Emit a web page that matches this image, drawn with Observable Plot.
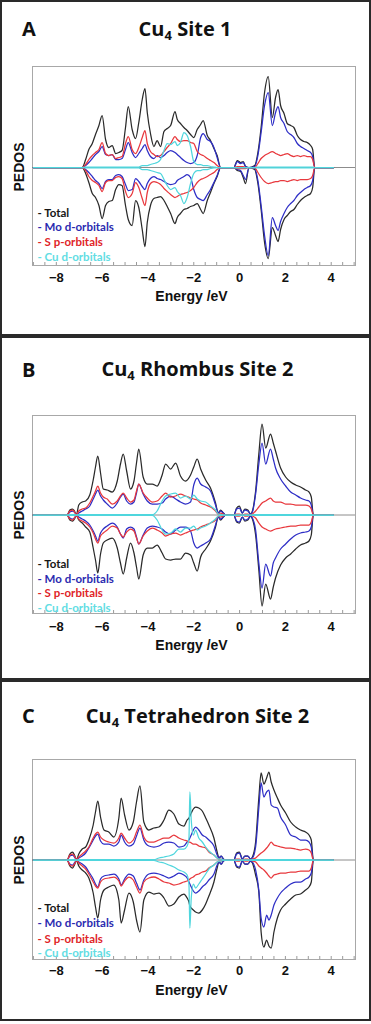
<!DOCTYPE html>
<html><head><meta charset="utf-8">
<script src="https://cdn.jsdelivr.net/npm/d3@7"></script>
<script src="https://cdn.jsdelivr.net/npm/@observablehq/plot@0.6"></script>
<style>
html,body{margin:0;padding:0;background:#fff;}
#root{position:relative;width:371px;height:1024px;overflow:hidden;}
.box{position:absolute;left:0;width:371px;box-sizing:border-box;border:2px solid #2a2a2a;}
.letter{position:absolute;font:bold 20px "Open Sans",Lato,sans-serif;line-height:20px;color:#111;}
.title{position:absolute;font:bold 20px "Open Sans",Lato,sans-serif;line-height:20px;white-space:nowrap;color:#111;transform:translateX(-50%);}
.title sub{font-size:13px;vertical-align:-4px;line-height:0;}
.ylab{position:absolute;font:bold 14px "Liberation Sans",Arial,sans-serif;line-height:14px;white-space:nowrap;color:#111;transform:translate(-50%,-50%) rotate(-90deg);}
.xlab{position:absolute;font:bold 14px "Liberation Sans",Arial,sans-serif;line-height:14px;white-space:nowrap;color:#111;transform:translate(-50%,-50%);}
.chart{position:absolute;left:0;}
</style></head>
<body><div id="root"></div>
<script>
// ---------- data ----------
const xTicks = [-8, -6, -4, -2, 0, 2, 4];
const legendLabels = ["- Total", "- Mo d-orbitals", "- S p-orbitals", "- Cu d-orbitals"];
const titleRests = [" Site 1", " Rhombus Site 2", " Tetrahedron Site 2"];
const panelLetters = ["A", "B", "C"];

// Panel A
const energyA = [-9.0,-6.87,-6.72,-6.58,-6.43,-6.29,-6.14,-6.00,-5.85,-5.71,-5.56,-5.41,-5.27,-5.13,-4.98,-4.86,-4.69,-4.54,-4.40,-4.25,-4.13,-4.03,-3.89,-3.74,-3.60,-3.45,-3.30,-3.16,-3.01,-2.82,-2.72,-2.58,-2.43,-2.29,-2.14,-2.00,-1.85,-1.70,-1.59,-1.41,-1.27,-1.12,-0.98,-0.83,-0.25,-0.10,0.04,0.16,0.26,0.41,0.66,0.80,0.94,1.09,1.25,1.43,1.57,1.68,1.79,1.94,2.08,2.23,2.37,2.52,2.66,2.81,2.95,3.10,3.19,3.28,4.10];
const totalUpA = [0,0,8,18,24,33,42,52,28,20,22,14,15,17,40,61,38,29,45,68,79,55,34,21,27,21,36,39,42,56,48,44,40,37,33,30,38,43,47,32,27,19,12,0,0,7,5,6,1,0,2,15,40,75,91,50,70,78,62,54,44,42,40,32,28,26,25,22,18,0,0];
const totalDnA = [0,0,-6,-15,-26,-30,-38,-51,-38,-34,-33,-22,-17,-18,-38,-52,-58,-33,-40,-62,-79,-55,-38,-31,-30,-29,-33,-39,-46,-56,-50,-46,-42,-41,-39,-38,-36,-42,-46,-33,-25,-16,-9,0,0,-3,-4,-10,-16,0,-2,-16,-42,-75,-91,-60,-68,-74,-62,-52,-48,-44,-42,-37,-33,-30,-28,-26,-20,0,0];
const moUpA = [0,0,2,5,9,13,16,21,13,12,13,8,8,9,18,25,15,10,14,19,23,17,11,9,12,10,12,15,17,15,13,10,7,5,4,5,12,30,34,28,26,20,10,0,0,6,4,5,1,0,1,12,35,62,75,42,55,61,50,44,36,33,30,24,21,19,17,15,11,0,0];
const moDnA = [0,0,-2,-5,-9,-13,-16,-21,-14,-12,-12,-8,-7,-9,-17,-23,-22,-11,-14,-19,-22,-16,-11,-9,-11,-12,-14,-16,-17,-16,-13,-11,-9,-7,-10,-22,-30,-32,-33,-27,-22,-15,-8,0,0,-2,-3,-8,-12,0,-1,-13,-38,-68,-88,-50,-58,-63,-54,-46,-40,-36,-33,-28,-25,-22,-20,-18,-13,0,0];
const sUpA = [0,0,3,8,12,15,18,25,14,12,13,9,10,11,24,31,18,14,20,30,37,24,16,13,11,12,16,20,24,31,28,26,27,27,25,24,16,13,12,9,7,5,2,0,0,1,1,1,0,0,0,4,9,12,14,16,14,13,12,13,14,12,11,12,11,12,11,11,8,0,0];
const sDnA = [0,0,-3,-9,-13,-15,-18,-24,-15,-13,-13,-10,-9,-11,-24,-30,-26,-15,-20,-31,-38,-25,-16,-14,-15,-17,-21,-24,-27,-30,-29,-27,-26,-25,-23,-20,-15,-12,-11,-9,-7,-5,-2,0,0,-1,-1,-1,-1,0,0,-5,-10,-14,-16,-15,-14,-14,-13,-13,-14,-13,-12,-13,-12,-12,-12,-11,-8,0,0];
const cuUpA = [0,0,.3,.3,.3,.3,.3,.3,.3,.3,.3,.3,.3,.3,.3,.3,.3,.3,.3,2,2,2,3,4,5,8,17,24,23,26,22,25,35,32,21,6,3,3,2,2,1,.5,0,0,0,0,0,0,0,0,0,.3,.3,.3,.3,.3,.3,.3,.3,.3,.3,.3,.3,.3,.3,.3,.3,.3,.3,0,0];
const cuDnA = [0,0,-.3,-.3,-.3,-.3,-.3,-.3,-.3,-.3,-.3,-.3,-.3,-.3,-.3,-.3,-.3,-.3,-.3,-2,-2,-2,-3,-4,-5,-6,-12,-18,-22,-20,-24,-28,-36,-30,-16,-6,-3,-3,-2,-2,-1,-.5,0,0,0,0,0,0,0,0,0,-.3,-.3,-.3,-.3,-.3,-.3,-.3,-.3,-.3,-.3,-.3,-.3,-.3,-.3,-.3,-.3,-.3,-.3,0,0];

// Panel B
const energyB = [-9.0,-7.53,-7.41,-7.29,-7.21,-7.12,-7.02,-6.87,-6.72,-6.54,-6.39,-6.29,-6.19,-6.07,-5.95,-5.78,-5.56,-5.34,-5.20,-5.08,-4.93,-4.76,-4.61,-4.50,-4.40,-4.21,-4.03,-3.81,-3.60,-3.38,-3.23,-3.01,-2.79,-2.58,-2.36,-2.14,-2.00,-1.85,-1.70,-1.48,-1.27,-1.05,-0.93,-0.83,-0.71,-0.61,-0.25,-0.13,-0.01,0.12,0.23,0.36,0.48,0.56,0.70,0.84,0.98,1.14,1.35,1.47,1.57,1.79,2.01,2.23,2.45,2.66,2.88,3.03,3.13,3.22,4.10];
const totalUpB = [0,0,5,6,4,0.5,10,13,14,20,35,48,59,42,26,25,23,34,51,61,44,26,34,52,66,38,31,31,29,40,51,46,52,39,34,40,48,56,46,35,27,12,2,5,2,0,0,7,9,2,6,5,1,4,24,61,91,67,81,72,64,47,38,33,30,28,25,23,18,0,0];
const totalDnB = [0,0,-5,-6,-4,-0.5,-5,-8,-12,-17,-33,-45,-58,-39,-28,-25,-23,-33,-48,-59,-43,-28,-38,-52,-64,-40,-33,-33,-30,-38,-44,-45,-44,-44,-38,-40,-48,-56,-42,-34,-26,-12,-2,-5,-2,0,0,-7,-8,-2,-6,-5,-1,-4,-20,-55,-91,-69,-84,-72,-63,-50,-43,-39,-34,-30,-28,-26,-20,0,0];
const moUpB = [0,0,3,4,3,0.5,2,4,6,9,16,21,25,19,15,11,7,12,18,21,14,11,13,22,31,21,14,11,11,12,16,19,16,13,11,13,30,37,31,28,24,10,2,4,2,0,0,6,7,2,5,4,1,3,21,51,72,51,66,56,47,36,29,23,20,17,15,14,10,0,0];
const moDnB = [0,0,-3,-4,-3,-0.5,-2,-4,-6,-10,-16,-21,-26,-18,-14,-11,-8,-12,-19,-23,-14,-12,-14,-22,-29,-20,-13,-11,-12,-14,-17,-19,-15,-12,-12,-16,-28,-33,-31,-28,-24,-10,-2,-4,-2,0,0,-6,-7,-2,-5,-4,-1,-3,-15,-48,-73,-49,-61,-48,-43,-34,-29,-24,-20,-18,-17,-16,-12,0,0];
const sUpB = [0,0,4,5,3,0.5,4,6,7,12,19,24,29,22,18,16,11,14,19,22,17,13,15,24,31,22,17,13,14,19,22,18,19,21,19,17,16,15,12,10,8,4,1,2,1,0,0,1,1,0,1,1,0,1,4,8,12,14,17,14,13,13,11,11,10,10,10,9,6,0,0];
const sDnB = [0,0,-4,-5,-3,-0.5,-4,-6,-8,-12,-18,-24,-28,-21,-18,-15,-11,-13,-19,-22,-17,-14,-16,-23,-29,-21,-16,-13,-15,-18,-21,-19,-18,-20,-18,-16,-15,-14,-12,-10,-8,-5,-1,-2,-1,0,0,-1,-1,0,-1,-1,0,-1,-3,-8,-12,-14,-16,-15,-14,-13,-12,-11,-11,-10,-10,-10,-7,0,0];
const cuUpB = [0,0,.3,.3,.3,0,.3,.3,.3,.3,.3,.3,.3,.3,.3,.3,.3,.3,.3,.3,.3,.3,.3,.3,.3,.3,.3,.3,4,14,19,21,22,17,19,16,20,16,14,13,9,5,1,.5,0,0,0,0,0,0,0,0,0,0,.3,.3,.3,.3,.3,.3,.3,.3,.3,.3,.3,.3,.3,.3,.3,0,0];
const cuDnB = [0,0,-.3,-.3,-.3,0,-.3,-.3,-.3,-.3,-.3,-.3,-.3,-.3,-.3,-.3,-.3,-.3,-.3,-.3,-.3,-.3,-.3,-.3,-.3,-.3,-.3,-.3,-5,-15,-19,-18,-14,-17,-13,-13,-11,-15,-13,-11,-8,-4,-1,-.5,0,0,0,0,0,0,0,0,0,0,-.3,-.3,-.3,-.3,-.3,-.3,-.3,-.3,-.3,-.3,-.3,-.3,-.3,-.3,-.3,0,0];

// Panel C
const energyC = [-9.0,-7.53,-7.41,-7.29,-7.21,-7.12,-7.02,-6.87,-6.72,-6.58,-6.39,-6.29,-6.19,-6.07,-5.92,-5.71,-5.49,-5.27,-5.17,-5.02,-4.83,-4.64,-4.50,-4.35,-4.18,-3.96,-3.74,-3.52,-3.30,-3.09,-2.87,-2.65,-2.43,-2.29,-2.21,-2.17,-2.11,-2.02,-1.92,-1.78,-1.63,-1.48,-1.34,-1.12,-0.98,-0.90,-0.80,-0.71,-0.61,-0.25,-0.13,-0.01,0.12,0.23,0.36,0.48,0.56,0.70,0.84,0.94,1.06,1.18,1.28,1.38,1.50,1.65,1.79,2.01,2.23,2.45,2.66,2.88,3.03,3.13,3.22,4.10];
const totalUpC = [0,0,6,8,5,0.5,6,11,13,20,35,48,59,43,30,28,23,42,62,45,30,38,58,74,38,30,32,33,40,50,46,36,34,40,42,44,47,51,53,52,49,42,35,22,8,2,4,1,0,0,7,8,1,4,4,1,3,18,62,87,76,82,88,78,70,62,55,47,38,33,30,28,25,20,0,0];
const totalDnC = [0,0,-6,-8,-5,-0.5,-6,-10,-13,-18,-33,-47,-58,-40,-30,-27,-25,-40,-63,-50,-33,-42,-60,-72,-40,-32,-34,-33,-38,-46,-44,-37,-34,-38,-42,-46,-48,-50,-52,-53,-50,-44,-36,-22,-8,-2,-4,-1,0,0,-7,-8,-1,-4,-4,-1,-3,-15,-32,-72,-87,-80,-86,-88,-72,-58,-50,-44,-39,-35,-34,-30,-27,-22,0,0];
const moUpC = [0,0,4,5,3,0.5,2,4,7,12,20,24,26,19,16,16,14,18,25,18,14,16,24,32,20,14,13,14,17,18,17,13,14,18,20,22,25,30,33,30,25,23,20,14,5,2,4,1,0,0,6,7,1,4,4,1,2,13,52,77,63,68,70,55,53,52,43,35,25,23,20,20,18,13,0,0];
const moDnC = [0,0,-4,-5,-3,-0.5,-2,-4,-7,-12,-19,-24,-27,-19,-16,-15,-14,-19,-25,-19,-14,-16,-23,-30,-20,-14,-13,-14,-16,-18,-16,-13,-15,-18,-22,-24,-27,-31,-33,-31,-27,-24,-20,-14,-5,-2,-4,-1,0,0,-6,-7,-1,-4,-4,-1,-2,-10,-30,-58,-67,-55,-60,-55,-45,-38,-33,-28,-24,-22,-22,-19,-17,-13,0,0];
const sUpC = [0,0,5,6,4,0.5,3,6,9,13,22,26,28,23,20,18,17,22,27,22,17,20,28,35,23,18,18,20,22,22,25,22,20,19,18,18,17,16,16,14,13,12,8,5,2,1,1,0,0,0,1,1,0,1,1,0,1,2,5,7,9,12,15,18,15,14,13,12,12,11,10,11,10,7,0,0];
const sDnC = [0,0,-5,-6,-4,-0.5,-3,-6,-9,-14,-22,-26,-28,-22,-19,-18,-17,-21,-26,-21,-17,-20,-27,-33,-22,-18,-17,-19,-22,-23,-25,-24,-22,-21,-20,-19,-18,-17,-15,-14,-12,-11,-8,-5,-2,-1,-1,0,0,0,-1,-1,0,-1,-1,0,-1,-2,-6,-8,-10,-13,-16,-18,-15,-14,-13,-13,-12,-12,-11,-11,-11,-8,0,0];
const cuUpC = [0,0,.3,.3,.3,0,.3,.3,.3,.3,.3,.3,.3,.3,.3,.3,.3,.3,.3,.3,.3,.3,.3,.3,.3,.3,.3,2,3,4,6,11,11,14,22,68,40,25,30,22,18,13,9,5,2,1,1,0,0,0,0,0,0,0,0,0,.3,.3,.3,.3,.3,.3,.3,.3,.3,.3,.3,.3,.3,.3,.3,.3,.3,.3,0,0];
const cuDnC = [0,0,-.3,-.3,-.3,0,-.3,-.3,-.3,-.3,-.3,-.3,-.3,-.3,-.3,-.3,-.3,-.3,-.3,-.3,-.3,-.3,-.3,-.3,-.3,-.3,-.3,-2,-3,-5,-7,-10,-12,-15,-25,-68,-38,-24,-28,-24,-19,-14,-9,-5,-2,-1,-1,0,0,0,0,0,0,0,0,0,-.3,-.3,-.3,-.3,-.3,-.3,-.3,-.3,-.3,-.3,-.3,-.3,-.3,-.3,-.3,-.3,-.3,-.3,0,0];

// ---------- styles / layout ----------
const lineColors = ["#2a2a2a", "#2e2ec6", "#e8383d", "#4fd6dd"];
const legendColors = ["#161616", "#2b2bb0", "#e02428", "#62dde3"];
const layout = [
  {boxTop: 0, boxH: 338, letterY: 18.6, titleX: 185, titleY: 18.6, frameTop: 66, frameBottom: 265, zeroY: 167, tickPad: 7, xlabY: 296, legendY: [212.7, 226.7, 242.3, 256.7]},
  {boxTop: 334, boxH: 348, letterY: 360, titleX: 197.5, titleY: 359, frameTop: 415, frameBottom: 613, zeroY: 514.5, tickPad: 8, xlabY: 645, legendY: [564, 579, 593.3, 608.3]},
  {boxTop: 678, boxH: 343, letterY: 706, titleX: 197.5, titleY: 705.5, frameTop: 759, frameBottom: 959, zeroY: 859.5, tickPad: 6, xlabY: 990, legendY: [908.3, 923.3, 939, 953.3]}
];
const panelData = [
  {energy: energyA, series: [[totalUpA, totalDnA], [moUpA, moDnA], [sUpA, sDnA], [cuUpA, cuDnA]]},
  {energy: energyB, series: [[totalUpB, totalDnB], [moUpB, moDnB], [sUpB, sDnB], [cuUpB, cuDnB]]},
  {energy: energyC, series: [[totalUpC, totalDnC], [moUpC, moDnC], [sUpC, sDnC], [cuUpC, cuDnC]]}
];
const xDomain = [-9.04, 5.06];
const minorTicks = d3.range(-9, 5.01, 0.5);

const root = document.getElementById("root");
function addDiv(cls, css, html) {
  const d = document.createElement("div");
  d.className = cls;
  Object.assign(d.style, css);
  d.innerHTML = html;
  root.appendChild(d);
  return d;
}

layout.forEach((L, p) => {
  const D = panelData[p];
  addDiv("box", {top: L.boxTop + "px", height: L.boxH + "px"}, "");
  addDiv("letter", {left: "22px", top: L.letterY + "px"}, panelLetters[p]);
  addDiv("title", {left: L.titleX + "px", top: L.titleY + "px"}, "Cu<sub>4</sub>" + titleRests[p].replace(/ /g, "&nbsp;"));
  addDiv("ylab", {left: "19px", top: L.zeroY + "px"}, "PEDOS");
  addDiv("xlab", {left: "191.5px", top: L.xlabY + "px"}, "Energy /eV");

  const mt = 10, mb = 26;
  const frameH = L.frameBottom - L.frameTop;
  const marks = [
    Plot.frame({stroke: "#a8a8a8"}),
    Plot.ruleY([0], {stroke: "#8c8c8c", strokeWidth: 1}),
    Plot.tickX(minorTicks, {x: d => d, stroke: "#9a9a9a", insetTop: frameH - 3})
  ];
  D.series.forEach((pair, k) => {
    pair.forEach(vals => {
      marks.push(Plot.line(D.energy, {x: D.energy, y: vals, curve: "monotone-x", stroke: lineColors[k], strokeWidth: 1.25, strokeLinejoin: "round"}));
    });
  });
  marks.push(Plot.axisX({ticks: xTicks, tickSize: 0, tickPadding: L.tickPad, tickFormat: d3.format("d"), label: null,
    fontSize: 13, fontWeight: "bold", fontFamily: "Liberation Sans, Arial, sans-serif", fill: "#111"}));
  legendLabels.forEach((t, i) => {
    marks.push(Plot.text([t], {text: d => d, frameAnchor: "bottom-left", textAnchor: "start", lineAnchor: "middle",
      dx: 5, dy: L.legendY[i] - L.frameBottom, fill: legendColors[i],
      fontSize: 11.5, fontWeight: "bold", fontFamily: "Lato, 'Open Sans', sans-serif"}));
  });
  const chart = Plot.plot({
    width: 371, height: frameH + mt + mb,
    marginLeft: 32, marginRight: 16, marginTop: mt, marginBottom: mb,
    x: {domain: xDomain},
    y: {domain: [-(L.frameBottom - L.zeroY), L.zeroY - L.frameTop], axis: null},
    style: {background: "transparent", overflow: "visible", fontFamily: "Liberation Sans, Arial, sans-serif"},
    marks
  });
  const wrap = document.createElement("div");
  wrap.className = "chart";
  wrap.style.top = (L.frameTop - mt) + "px";
  wrap.appendChild(chart);
  root.appendChild(wrap);
});
</script>
</body></html>
